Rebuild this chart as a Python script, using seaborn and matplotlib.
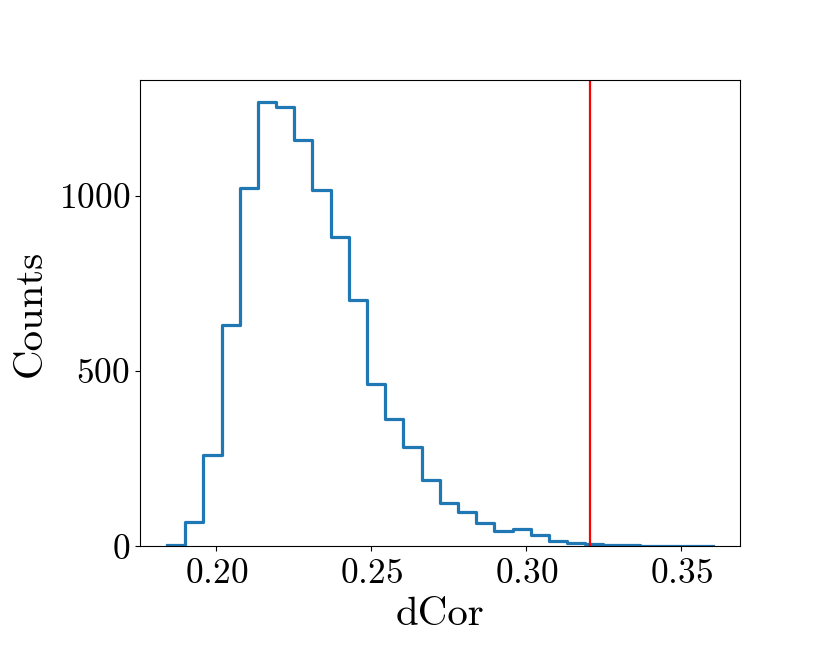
import numpy as np
import pandas as pd
import seaborn as sns
import matplotlib
matplotlib.use('Agg')
import matplotlib.pyplot as plt

plt.rcParams['font.family'] = ['cmr10', 'DejaVu Serif']
plt.rcParams['mathtext.fontset'] = 'cm'
plt.rcParams['axes.formatter.use_mathtext'] = True

# histogram counts (30 bins)
counts = [5, 69, 259, 630, 1022, 1266, 1252, 1157, 1016, 883,
          701, 463, 364, 282, 188, 124, 98, 65, 43, 50,
          31, 14, 9, 6, 3, 3, 1, 1, 2, 1]
dcor_min = 0.1841
dcor_max = 0.3601
observed = 0.3206

edges = np.linspace(dcor_min, dcor_max, len(counts) + 1)
centers = (edges[:-1] + edges[1:]) / 2
df = pd.DataFrame({'dCor': centers, 'Counts': counts})

fig = plt.figure(figsize=(8.22, 6.67), dpi=100)
ax = fig.add_subplot(111)
fig.subplots_adjust(left=0.170, right=0.900, bottom=0.181, top=0.880)

sns.histplot(data=df, x='dCor', weights='Counts', bins=len(counts),
             binrange=(dcor_min, dcor_max),
             element='step', fill=False, color='#1f77b4', linewidth=2.3, ax=ax)
ax.axvline(observed, color='red', linewidth=1.6)

ax.set_ylim(bottom=0)
ax.set_xticks([0.20, 0.25, 0.30, 0.35])
ax.set_yticks([0, 500, 1000])
ax.tick_params(labelsize=25.5)
ax.tick_params(axis='x', pad=5)
ax.set_xlabel('dCor', fontsize=29.5, labelpad=5)
ax.set_ylabel('Counts', fontsize=29.5, labelpad=7)

plt.savefig('out.png', dpi=100)
